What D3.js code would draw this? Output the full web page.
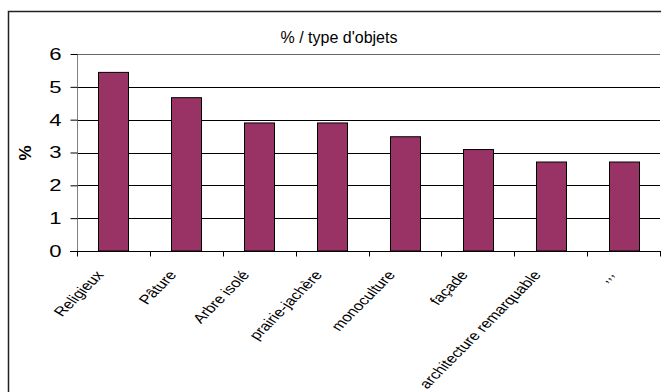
<!DOCTYPE html>
<html>
<head>
<meta charset="utf-8">
<script src="https://cdn.jsdelivr.net/npm/d3@7/dist/d3.min.js"></script>
<style>
  html, body { margin: 0; padding: 0; background: #fff; }
  svg { display: block; font-family: Arial, "Liberation Sans", sans-serif; }
</style>
</head>
<body>
<svg id="chart" width="661" height="392"></svg>
<script>
const categories = ["Religieux", "Pâture", "Arbre isolé", "prairie-jachère", "monoculture", "façade", "architecture remarquable", ",,,"];
const values = [5.44, 4.67, 3.9, 3.9, 3.48, 3.09, 2.71, 2.71];
const yTicks = [0, 1, 2, 3, 4, 5, 6];
const title = "% / type d'objets";
const yLabel = "%";

const svg = d3.select("#chart");
const W = 661, H = 392;
const plot = { left: 77, right: 660, top: 54, bottom: 251 };

// outer chart border
svg.append("rect")
  .attr("x", 8.5).attr("y", 11.5)
  .attr("width", W + 20).attr("height", H + 20)
  .attr("fill", "none").attr("stroke", "#222").attr("stroke-width", 1.5);

const x = d3.scaleBand().domain(categories).range([plot.left, plot.right]).padding(0);
const y = d3.scaleLinear().domain([0, 6]).range([plot.bottom, plot.top]);

// gridlines
svg.append("g").selectAll("line").data(yTicks.filter(d => d > 0)).join("line")
  .attr("x1", plot.left).attr("x2", plot.right)
  .attr("y1", d => Math.round(y(d)) + 0.5).attr("y2", d => Math.round(y(d)) + 0.5)
  .attr("stroke", d => d === 6 ? "#666" : "#000").attr("stroke-width", 1);

// y axis
const sx = 1.3;
const yAxis = svg.append("g").attr("transform", `translate(${plot.left + 0.5},0)`)
  .call(d3.axisLeft(y).tickValues(yTicks).tickSize(7).tickPadding(9).tickFormat(d3.format("d")));
yAxis.select(".domain").attr("stroke", "#808080").attr("d", `M0,${plot.top}V${plot.bottom}`);
yAxis.selectAll(".tick line").attr("stroke", "#000");
yAxis.selectAll(".tick text")
  .attr("font-size", 17).attr("font-family", "Arial, 'Liberation Sans', sans-serif").attr("fill", "#000")
  .attr("transform", function() { const xx = +d3.select(this).attr("x"); return `translate(${xx},0) scale(${sx},1) translate(${-xx},0)`; });

// x axis
const xAxis = svg.append("g").attr("transform", `translate(0,${Math.round(plot.bottom) + 0.5})`)
  .call(d3.axisBottom(x).tickSize(0).tickFormat(""));
xAxis.select(".domain").attr("stroke", "#000").attr("d", `M${plot.left - 7},0H${plot.right + 1}`);
const boundaries = categories.map(c => x(c)).concat([x(categories[categories.length - 1]) + x.bandwidth()]);
xAxis.append("g").selectAll("line").data(boundaries).join("line")
  .attr("x1", d => Math.round(d) + 0.5).attr("x2", d => Math.round(d) + 0.5)
  .attr("y1", 0).attr("y2", 5).attr("stroke", "#000");

// bars
const barFrac = 0.41;
svg.append("g").selectAll("rect").data(categories).join("rect")
  .attr("x", (d) => Math.round(x(d) + x.bandwidth() * (1 - barFrac) / 2) + 0.5)
  .attr("width", Math.round(x.bandwidth() * barFrac))
  .attr("y", (d, i) => y(values[i]))
  .attr("height", (d, i) => y(0) - y(values[i]))
  .attr("fill", "#993366").attr("stroke", "#000").attr("stroke-width", 1);

// x labels (horizontally stretched, final angle 45°)
const theta = Math.atan(sx) * 180 / Math.PI;
svg.append("g").selectAll("text").data(categories).join("text")
  .attr("transform", d => `translate(${x(d) + x.bandwidth() / 2 - 9},${plot.bottom + 24}) scale(${sx},1) rotate(${-theta})`)
  .attr("text-anchor", "end")
  .attr("font-size", 13)
  .attr("fill", "#000")
  .text(d => d);

// title
svg.append("text").attr("x", 339).attr("y", 43).attr("text-anchor", "middle")
  .attr("font-size", 16).attr("fill", "#000").text(title);

// y label
svg.append("text").attr("transform", "translate(31,153) rotate(-90)")
  .attr("text-anchor", "middle").attr("font-size", 17).attr("font-weight", "bold")
  .attr("fill", "#000").text(yLabel);
</script>
</body>
</html>
